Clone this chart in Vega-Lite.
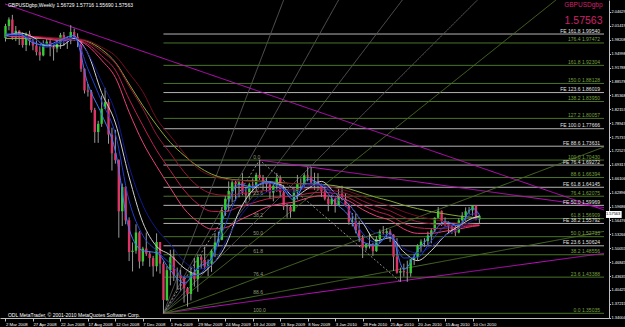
{
"$schema":"https://vega.github.io/schema/vega-lite/v6.json",
"width":609,"height":318,
"autosize":{"type":"none"},
"padding":{"left":0,"top":0,"right":16,"bottom":9},
"background":"#000000",
"config":{"view":{"stroke":null},"font":"Liberation Sans","axis":{"zindex":1,"labelOverlap":false,"tickCount":100}},
"datasets":{
"bars":[
{"d":"2008-03-02","o":1.9860,"h":2.0190,"l":1.9780,"c":2.0140},
{"d":"2008-03-09","o":2.0140,"h":2.0340,"l":2.0040,"c":2.0290},
{"d":"2008-03-16","o":2.0290,"h":2.0397,"l":1.9820,"c":1.9870},
{"d":"2008-03-23","o":1.9870,"h":2.0140,"l":1.9790,"c":2.0030},
{"d":"2008-03-30","o":2.0030,"h":2.0040,"l":1.9700,"c":1.9920},
{"d":"2008-04-06","o":1.9920,"h":1.9990,"l":1.9640,"c":1.9700},
{"d":"2008-04-13","o":1.9700,"h":1.9990,"l":1.9560,"c":1.9960},
{"d":"2008-04-20","o":1.9960,"h":2.0030,"l":1.9690,"c":1.9790},
{"d":"2008-04-27","o":1.9790,"h":1.9910,"l":1.9580,"c":1.9690},
{"d":"2008-05-04","o":1.9690,"h":1.9810,"l":1.9460,"c":1.9540},
{"d":"2008-05-11","o":1.9540,"h":1.9670,"l":1.9340,"c":1.9460},
{"d":"2008-05-18","o":1.9460,"h":1.9810,"l":1.9440,"c":1.9720},
{"d":"2008-05-25","o":1.9720,"h":1.9840,"l":1.9680,"c":1.9780},
{"d":"2008-06-01","o":1.9780,"h":1.9830,"l":1.9440,"c":1.9650},
{"d":"2008-06-08","o":1.9650,"h":1.9710,"l":1.9340,"c":1.9620},
{"d":"2008-06-15","o":1.9620,"h":1.9820,"l":1.9530,"c":1.9730},
{"d":"2008-06-22","o":1.9730,"h":1.9980,"l":1.9610,"c":1.9930},
{"d":"2008-06-29","o":1.9930,"h":2.0000,"l":1.9680,"c":1.9810},
{"d":"2008-07-06","o":1.9810,"h":1.9900,"l":1.9610,"c":1.9800},
{"d":"2008-07-13","o":1.9800,"h":2.0160,"l":1.9720,"c":2.0000},
{"d":"2008-07-20","o":2.0000,"h":2.0080,"l":1.9800,"c":1.9890},
{"d":"2008-07-27","o":1.9890,"h":1.9970,"l":1.9650,"c":1.9820},
{"d":"2008-08-03","o":1.9820,"h":1.9840,"l":1.9080,"c":1.9150},
{"d":"2008-08-10","o":1.9150,"h":1.9160,"l":1.8580,"c":1.8650},
{"d":"2008-08-17","o":1.8650,"h":1.8800,"l":1.8510,"c":1.8620},
{"d":"2008-08-24","o":1.8620,"h":1.8660,"l":1.8140,"c":1.8200},
{"d":"2008-08-31","o":1.8200,"h":1.8250,"l":1.7440,"c":1.7690},
{"d":"2008-09-07","o":1.7690,"h":1.7950,"l":1.7440,"c":1.7880},
{"d":"2008-09-14","o":1.7880,"h":1.8530,"l":1.7810,"c":1.8230},
{"d":"2008-09-21","o":1.8230,"h":1.8710,"l":1.8220,"c":1.8380},
{"d":"2008-09-28","o":1.8380,"h":1.8450,"l":1.7420,"c":1.7630},
{"d":"2008-10-05","o":1.7630,"h":1.7790,"l":1.6800,"c":1.7200},
{"d":"2008-10-12","o":1.7200,"h":1.7740,"l":1.6960,"c":1.7040},
{"d":"2008-10-19","o":1.7040,"h":1.7060,"l":1.5250,"c":1.5860},
{"d":"2008-10-26","o":1.5860,"h":1.6500,"l":1.5520,"c":1.6420},
{"d":"2008-11-02","o":1.6420,"h":1.6440,"l":1.5560,"c":1.5650},
{"d":"2008-11-09","o":1.5650,"h":1.5720,"l":1.4710,"c":1.4920},
{"d":"2008-11-16","o":1.4920,"h":1.5140,"l":1.4470,"c":1.4950},
{"d":"2008-11-23","o":1.4950,"h":1.5560,"l":1.4880,"c":1.5370},
{"d":"2008-11-30","o":1.5370,"h":1.5400,"l":1.4540,"c":1.4700},
{"d":"2008-12-07","o":1.4700,"h":1.5040,"l":1.4600,"c":1.5000},
{"d":"2008-12-14","o":1.5000,"h":1.5370,"l":1.4830,"c":1.4880},
{"d":"2008-12-21","o":1.4880,"h":1.4940,"l":1.4580,"c":1.4780},
{"d":"2008-12-28","o":1.4780,"h":1.4830,"l":1.4350,"c":1.4590},
{"d":"2009-01-04","o":1.4590,"h":1.5350,"l":1.4470,"c":1.5150},
{"d":"2009-01-11","o":1.5150,"h":1.5150,"l":1.4420,"c":1.4650},
{"d":"2009-01-18","o":1.4650,"h":1.4700,"l":1.3503,"c":1.3810},
{"d":"2009-01-25","o":1.3810,"h":1.4590,"l":1.3790,"c":1.4500},
{"d":"2009-02-01","o":1.4500,"h":1.4970,"l":1.4150,"c":1.4800},
{"d":"2009-02-08","o":1.4800,"h":1.4980,"l":1.4250,"c":1.4380},
{"d":"2009-02-15","o":1.4380,"h":1.4560,"l":1.4050,"c":1.4390},
{"d":"2009-02-22","o":1.4390,"h":1.4510,"l":1.4030,"c":1.4310},
{"d":"2009-03-01","o":1.4310,"h":1.4370,"l":1.3750,"c":1.4080},
{"d":"2009-03-08","o":1.4080,"h":1.4110,"l":1.3658,"c":1.3950},
{"d":"2009-03-15","o":1.3950,"h":1.4590,"l":1.3800,"c":1.4460},
{"d":"2009-03-22","o":1.4460,"h":1.4780,"l":1.4120,"c":1.4290},
{"d":"2009-03-29","o":1.4290,"h":1.4860,"l":1.4000,"c":1.4800},
{"d":"2009-04-05","o":1.4800,"h":1.4850,"l":1.4530,"c":1.4740},
{"d":"2009-04-12","o":1.4740,"h":1.5040,"l":1.4510,"c":1.4580},
{"d":"2009-04-19","o":1.4580,"h":1.4750,"l":1.4360,"c":1.4650},
{"d":"2009-04-26","o":1.4650,"h":1.4980,"l":1.4460,"c":1.4950},
{"d":"2009-05-03","o":1.4950,"h":1.5360,"l":1.4800,"c":1.5140},
{"d":"2009-05-10","o":1.5140,"h":1.5390,"l":1.5050,"c":1.5200},
{"d":"2009-05-17","o":1.5200,"h":1.5960,"l":1.5190,"c":1.5890},
{"d":"2009-05-24","o":1.5890,"h":1.6210,"l":1.5750,"c":1.6150},
{"d":"2009-05-31","o":1.6150,"h":1.6550,"l":1.5860,"c":1.6330},
{"d":"2009-06-07","o":1.6330,"h":1.6580,"l":1.6060,"c":1.6530},
{"d":"2009-06-14","o":1.6530,"h":1.6570,"l":1.6100,"c":1.6480},
{"d":"2009-06-21","o":1.6480,"h":1.6580,"l":1.6180,"c":1.6530},
{"d":"2009-06-28","o":1.6530,"h":1.6740,"l":1.6230,"c":1.6290},
{"d":"2009-07-05","o":1.6290,"h":1.6420,"l":1.6040,"c":1.6240},
{"d":"2009-07-12","o":1.6240,"h":1.6520,"l":1.6130,"c":1.6480},
{"d":"2009-07-19","o":1.6480,"h":1.6620,"l":1.6290,"c":1.6460},
{"d":"2009-07-26","o":1.6460,"h":1.6750,"l":1.6330,"c":1.6700},
{"d":"2009-08-02","o":1.6700,"h":1.7043,"l":1.6580,"c":1.6630},
{"d":"2009-08-09","o":1.6630,"h":1.6700,"l":1.6340,"c":1.6530},
{"d":"2009-08-16","o":1.6530,"h":1.6640,"l":1.6310,"c":1.6480},
{"d":"2009-08-23","o":1.6480,"h":1.6510,"l":1.6160,"c":1.6290},
{"d":"2009-08-30","o":1.6290,"h":1.6490,"l":1.6090,"c":1.6450},
{"d":"2009-09-06","o":1.6450,"h":1.6740,"l":1.6310,"c":1.6620},
{"d":"2009-09-13","o":1.6620,"h":1.6690,"l":1.6180,"c":1.6300},
{"d":"2009-09-20","o":1.6300,"h":1.6470,"l":1.5890,"c":1.5970},
{"d":"2009-09-27","o":1.5970,"h":1.6030,"l":1.5710,"c":1.5960},
{"d":"2009-10-04","o":1.5960,"h":1.6010,"l":1.5710,"c":1.5860},
{"d":"2009-10-11","o":1.5860,"h":1.6420,"l":1.5850,"c":1.6310},
{"d":"2009-10-18","o":1.6310,"h":1.6700,"l":1.6130,"c":1.6510},
{"d":"2009-10-25","o":1.6510,"h":1.6620,"l":1.6360,"c":1.6480},
{"d":"2009-11-01","o":1.6480,"h":1.6740,"l":1.6420,"c":1.6690},
{"d":"2009-11-08","o":1.6690,"h":1.6880,"l":1.6550,"c":1.6660},
{"d":"2009-11-15","o":1.6660,"h":1.6880,"l":1.6470,"c":1.6520},
{"d":"2009-11-22","o":1.6520,"h":1.6750,"l":1.6350,"c":1.6550},
{"d":"2009-11-29","o":1.6550,"h":1.6740,"l":1.6340,"c":1.6460},
{"d":"2009-12-06","o":1.6460,"h":1.6500,"l":1.6190,"c":1.6320},
{"d":"2009-12-13","o":1.6320,"h":1.6460,"l":1.6110,"c":1.6150},
{"d":"2009-12-20","o":1.6150,"h":1.6200,"l":1.5860,"c":1.6030},
{"d":"2009-12-27","o":1.6030,"h":1.6240,"l":1.5990,"c":1.6150},
{"d":"2010-01-03","o":1.6150,"h":1.6160,"l":1.5830,"c":1.6000},
{"d":"2010-01-10","o":1.6000,"h":1.6380,"l":1.5990,"c":1.6260},
{"d":"2010-01-17","o":1.6260,"h":1.6450,"l":1.6110,"c":1.6140},
{"d":"2010-01-24","o":1.6140,"h":1.6280,"l":1.5970,"c":1.5990},
{"d":"2010-01-31","o":1.5990,"h":1.6040,"l":1.5550,"c":1.5620},
{"d":"2010-02-07","o":1.5620,"h":1.5820,"l":1.5510,"c":1.5640},
{"d":"2010-02-14","o":1.5640,"h":1.5800,"l":1.5350,"c":1.5420},
{"d":"2010-02-21","o":1.5420,"h":1.5640,"l":1.5150,"c":1.5250},
{"d":"2010-02-28","o":1.5250,"h":1.5310,"l":1.4780,"c":1.5020},
{"d":"2010-03-07","o":1.5020,"h":1.5120,"l":1.4950,"c":1.5100},
{"d":"2010-03-14","o":1.5100,"h":1.5360,"l":1.5000,"c":1.5080},
{"d":"2010-03-21","o":1.5080,"h":1.5130,"l":1.4830,"c":1.4940},
{"d":"2010-03-28","o":1.4940,"h":1.5290,"l":1.4920,"c":1.5220},
{"d":"2010-04-04","o":1.5220,"h":1.5440,"l":1.5130,"c":1.5380},
{"d":"2010-04-11","o":1.5380,"h":1.5520,"l":1.5310,"c":1.5360},
{"d":"2010-04-18","o":1.5360,"h":1.5470,"l":1.5230,"c":1.5400},
{"d":"2010-04-25","o":1.5400,"h":1.5450,"l":1.5150,"c":1.5320},
{"d":"2010-05-02","o":1.5320,"h":1.5330,"l":1.4480,"c":1.4810},
{"d":"2010-05-09","o":1.4810,"h":1.5240,"l":1.4420,"c":1.4440},
{"d":"2010-05-16","o":1.4440,"h":1.4560,"l":1.4231,"c":1.4480},
{"d":"2010-05-23","o":1.4480,"h":1.4650,"l":1.4350,"c":1.4450},
{"d":"2010-05-30","o":1.4450,"h":1.4720,"l":1.4230,"c":1.4430},
{"d":"2010-06-06","o":1.4430,"h":1.4760,"l":1.4350,"c":1.4750},
{"d":"2010-06-13","o":1.4750,"h":1.4880,"l":1.4620,"c":1.4800},
{"d":"2010-06-20","o":1.4800,"h":1.5100,"l":1.4720,"c":1.5070},
{"d":"2010-06-27","o":1.5070,"h":1.5210,"l":1.4920,"c":1.5160},
{"d":"2010-07-04","o":1.5160,"h":1.5240,"l":1.5040,"c":1.5170},
{"d":"2010-07-11","o":1.5170,"h":1.5390,"l":1.5050,"c":1.5300},
{"d":"2010-07-18","o":1.5300,"h":1.5470,"l":1.5120,"c":1.5420},
{"d":"2010-07-25","o":1.5420,"h":1.5720,"l":1.5380,"c":1.5710},
{"d":"2010-08-01","o":1.5710,"h":1.5960,"l":1.5700,"c":1.5870},
{"d":"2010-08-08","o":1.5870,"h":1.5880,"l":1.5520,"c":1.5630},
{"d":"2010-08-15","o":1.5630,"h":1.5720,"l":1.5510,"c":1.5560},
{"d":"2010-08-22","o":1.5560,"h":1.5630,"l":1.5340,"c":1.5510},
{"d":"2010-08-29","o":1.5510,"h":1.5540,"l":1.5340,"c":1.5450},
{"d":"2010-09-05","o":1.5450,"h":1.5540,"l":1.5290,"c":1.5370},
{"d":"2010-09-12","o":1.5370,"h":1.5700,"l":1.5350,"c":1.5650},
{"d":"2010-09-19","o":1.5650,"h":1.5840,"l":1.5530,"c":1.5760},
{"d":"2010-09-26","o":1.5760,"h":1.5950,"l":1.5640,"c":1.5860},
{"d":"2010-10-03","o":1.5860,"h":1.5960,"l":1.5790,"c":1.5880},
{"d":"2010-10-10","o":1.5880,"h":1.6000,"l":1.5760,"c":1.5990},
{"d":"2010-10-17","o":1.5990,"h":1.6000,"l":1.5650,"c":1.5673},
{"d":"2010-10-24","o":1.5673,"h":1.5772,"l":1.5569,"c":1.5756}
],
"ma":[
{"d":"2008-03-02","b1":1.995,"b2":1.995,"b3":1.990,"w":1.990,"r1":1.990,"r2":1.990,"r3":1.990,"r4":1.990,"g":1.985},
{"d":"2008-03-30","b1":1.995,"b2":1.995,"b3":1.993,"w":1.998,"r1":1.989,"r2":1.989,"r3":1.990,"r4":1.990,"g":1.985},
{"d":"2008-04-27","b1":1.975,"b2":1.978,"b3":1.985,"w":1.988,"r1":1.988,"r2":1.989,"r3":1.989,"r4":1.990,"g":1.985},
{"d":"2008-05-25","b1":1.970,"b2":1.965,"b3":1.972,"w":1.968,"r1":1.984,"r2":1.985,"r3":1.987,"r4":1.988,"g":1.985},
{"d":"2008-06-22","b1":1.982,"b2":1.978,"b3":1.975,"w":1.968,"r1":1.980,"r2":1.982,"r3":1.984,"r4":1.986,"g":1.985},
{"d":"2008-07-20","b1":1.992,"b2":1.988,"b3":1.983,"w":1.985,"r1":1.982,"r2":1.983,"r3":1.984,"r4":1.985,"g":1.984},
{"d":"2008-08-17","b1":1.880,"b2":1.915,"b3":1.950,"w":1.950,"r1":1.968,"r2":1.972,"r3":1.976,"r4":1.980,"g":1.978},
{"d":"2008-09-14","b1":1.810,"b2":1.840,"b3":1.885,"w":1.860,"r1":1.935,"r2":1.945,"r3":1.955,"r4":1.965,"g":1.960},
{"d":"2008-10-12","b1":1.725,"b2":1.765,"b3":1.815,"w":1.790,"r1":1.895,"r2":1.912,"r3":1.928,"r4":1.945,"g":1.930},
{"d":"2008-11-09","b1":1.545,"b2":1.610,"b3":1.690,"w":1.665,"r1":1.815,"r2":1.845,"r3":1.875,"r4":1.905,"g":1.880},
{"d":"2008-12-07","b1":1.495,"b2":1.530,"b3":1.600,"w":1.560,"r1":1.745,"r2":1.784,"r3":1.823,"r4":1.862,"g":1.830},
{"d":"2009-01-04","b1":1.490,"b2":1.495,"b3":1.545,"w":1.505,"r1":1.690,"r2":1.727,"r3":1.763,"r4":1.800,"g":1.785},
{"d":"2009-02-01","b1":1.450,"b2":1.465,"b3":1.510,"w":1.485,"r1":1.640,"r2":1.680,"r3":1.720,"r4":1.760,"g":1.745},
{"d":"2009-03-01","b1":1.420,"b2":1.435,"b3":1.470,"w":1.455,"r1":1.592,"r2":1.635,"r3":1.677,"r4":1.720,"g":1.715},
{"d":"2009-03-29","b1":1.455,"b2":1.440,"b3":1.452,"w":1.440,"r1":1.562,"r2":1.603,"r3":1.644,"r4":1.685,"g":1.690},
{"d":"2009-04-26","b1":1.478,"b2":1.475,"b3":1.462,"w":1.462,"r1":1.545,"r2":1.586,"r3":1.627,"r4":1.668,"g":1.672},
{"d":"2009-05-24","b1":1.585,"b2":1.555,"b3":1.515,"w":1.505,"r1":1.548,"r2":1.585,"r3":1.623,"r4":1.660,"g":1.662},
{"d":"2009-06-21","b1":1.648,"b2":1.625,"b3":1.570,"w":1.585,"r1":1.565,"r2":1.596,"r3":1.626,"r4":1.657,"g":1.658},
{"d":"2009-07-19","b1":1.642,"b2":1.643,"b3":1.608,"w":1.635,"r1":1.580,"r2":1.605,"r3":1.630,"r4":1.655,"g":1.656},
{"d":"2009-08-16","b1":1.655,"b2":1.652,"b3":1.630,"w":1.652,"r1":1.595,"r2":1.614,"r3":1.634,"r4":1.653,"g":1.655},
{"d":"2009-09-13","b1":1.645,"b2":1.642,"b3":1.636,"w":1.648,"r1":1.603,"r2":1.619,"r3":1.634,"r4":1.650,"g":1.652},
{"d":"2009-10-11","b1":1.612,"b2":1.620,"b3":1.630,"w":1.620,"r1":1.607,"r2":1.621,"r3":1.636,"r4":1.650,"g":1.650},
{"d":"2009-11-08","b1":1.660,"b2":1.650,"b3":1.645,"w":1.638,"r1":1.617,"r2":1.627,"r3":1.638,"r4":1.648,"g":1.650},
{"d":"2009-12-06","b1":1.645,"b2":1.648,"b3":1.647,"w":1.655,"r1":1.622,"r2":1.630,"r3":1.637,"r4":1.645,"g":1.648},
{"d":"2010-01-03","b1":1.606,"b2":1.618,"b3":1.628,"w":1.628,"r1":1.620,"r2":1.627,"r3":1.633,"r4":1.640,"g":1.645},
{"d":"2010-01-31","b1":1.575,"b2":1.590,"b3":1.603,"w":1.602,"r1":1.610,"r2":1.617,"r3":1.625,"r4":1.632,"g":1.638},
{"d":"2010-02-28","b1":1.515,"b2":1.535,"b3":1.562,"w":1.560,"r1":1.590,"r2":1.600,"r3":1.610,"r4":1.620,"g":1.628},
{"d":"2010-03-28","b1":1.508,"b2":1.514,"b3":1.535,"w":1.518,"r1":1.575,"r2":1.586,"r3":1.597,"r4":1.608,"g":1.618},
{"d":"2010-04-25","b1":1.536,"b2":1.528,"b3":1.530,"w":1.525,"r1":1.565,"r2":1.576,"r3":1.587,"r4":1.598,"g":1.610},
{"d":"2010-05-23","b1":1.452,"b2":1.478,"b3":1.500,"w":1.492,"r1":1.545,"r2":1.558,"r3":1.572,"r4":1.585,"g":1.600},
{"d":"2010-06-20","b1":1.495,"b2":1.480,"b3":1.490,"w":1.472,"r1":1.535,"r2":1.548,"r3":1.562,"r4":1.575,"g":1.592},
{"d":"2010-07-18","b1":1.532,"b2":1.518,"b3":1.505,"w":1.495,"r1":1.535,"r2":1.546,"r3":1.557,"r4":1.568,"g":1.585},
{"d":"2010-08-15","b1":1.562,"b2":1.550,"b3":1.530,"w":1.530,"r1":1.540,"r2":1.547,"r3":1.555,"r4":1.562,"g":1.580},
{"d":"2010-09-12","b1":1.552,"b2":1.555,"b3":1.545,"w":1.552,"r1":1.545,"r2":1.549,"r3":1.554,"r4":1.558,"g":1.575},
{"d":"2010-10-10","b1":1.593,"b2":1.580,"b3":1.565,"w":1.570,"r1":1.551,"r2":1.553,"r3":1.554,"r4":1.556,"g":1.572},
{"d":"2010-10-24","b1":1.578,"b2":1.580,"b3":1.570,"w":1.575,"r1":1.553,"r2":1.554,"r3":1.554,"r4":1.555,"g":1.571}
],
"levels":[
{"kind":"FE","d":"2009-01-18","d2":"2011-07-05","p":1.99540,"t":"FE 161.8 1.99540"},
{"kind":"FE","d":"2009-01-18","d2":"2011-07-05","p":1.86019,"t":"FE 123.6 1.86019"},
{"kind":"FE","d":"2009-01-18","d2":"2011-07-05","p":1.77666,"t":"FE 100.0 1.77666"},
{"kind":"FE","d":"2009-01-18","d2":"2011-07-05","p":1.73631,"t":"FE 88.6 1.73631"},
{"kind":"FE","d":"2009-01-18","d2":"2011-07-05","p":1.69272,"t":"FE 76.4 1.69272"},
{"kind":"FE","d":"2009-01-18","d2":"2011-07-05","p":1.64145,"t":"FE 61.8 1.64145"},
{"kind":"FE","d":"2009-01-18","d2":"2011-07-05","p":1.59969,"t":"FE 50.0 1.59969"},
{"kind":"FE","d":"2009-01-18","d2":"2011-07-05","p":1.55792,"t":"FE 38.2 1.55792"},
{"kind":"FE","d":"2009-01-18","d2":"2011-07-05","p":1.50624,"t":"FE 23.6 1.50624"},
{"kind":"Fib","d":"2009-01-18","d2":"2011-07-05","p":1.97472,"t":"176.4 1.97472"},
{"kind":"Fib","d":"2009-01-18","d2":"2011-07-05","p":1.92304,"t":"161.8 1.92304"},
{"kind":"Fib","d":"2009-01-18","d2":"2011-07-05","p":1.88128,"t":"150.0 1.88128"},
{"kind":"Fib","d":"2009-01-18","d2":"2011-07-05","p":1.83950,"t":"138.2 1.83950"},
{"kind":"Fib","d":"2009-01-18","d2":"2011-07-05","p":1.80057,"t":"127.2 1.80057"},
{"kind":"Fib","d":"2009-01-18","d2":"2011-07-05","p":1.70430,"t":"100.0 1.70430"},
{"kind":"Fib","d":"2009-01-18","d2":"2011-07-05","p":1.66394,"t":"88.6 1.66394"},
{"kind":"Fib","d":"2009-01-18","d2":"2011-07-05","p":1.62075,"t":"76.4 1.62075"},
{"kind":"Fib","d":"2009-01-18","d2":"2011-07-05","p":1.56909,"t":"61.8 1.56909"},
{"kind":"Fib","d":"2009-01-18","d2":"2011-07-05","p":1.52733,"t":"50.0 1.52733"},
{"kind":"Fib","d":"2009-01-18","d2":"2011-07-05","p":1.48556,"t":"38.2 1.48556"},
{"kind":"Fib","d":"2009-01-18","d2":"2011-07-05","p":1.43388,"t":"23.6 1.43388"},
{"kind":"Fib","d":"2009-01-18","d2":"2011-07-05","p":1.35035,"t":"0.0 1.35035"}
],
"inner":[
{"d":"2009-07-20","p":1.70430,"t":"0.0"},
{"d":"2009-07-20","p":1.62076,"t":"23.6"},
{"d":"2009-07-20","p":1.56909,"t":"38.2"},
{"d":"2009-07-20","p":1.52733,"t":"50.0"},
{"d":"2009-07-20","p":1.48556,"t":"61.8"},
{"d":"2009-07-20","p":1.43388,"t":"76.4"},
{"d":"2009-07-20","p":1.39072,"t":"88.6"},
{"d":"2009-07-20","p":1.35035,"t":"100.0"}
],
"lines":[
{"id":"m1","grp":"magenta","d":"2008-03-01","p":2.0648},{"id":"m1","grp":"magenta","d":"2011-07-05","p":1.5890},
{"id":"m2","grp":"magenta","d":"2009-08-02","p":1.7043},{"id":"m2","grp":"magenta","d":"2011-07-05","p":1.5945},
{"id":"m3","grp":"magenta","d":"2009-01-18","p":1.3503},{"id":"m3","grp":"magenta","d":"2011-07-05","p":1.4888},
{"id":"f1","grp":"fan","d":"2009-01-18","p":1.3503},{"id":"f1","grp":"fan","d":"2011-03-29","p":2.074},
{"id":"f2","grp":"fan","d":"2009-01-18","p":1.3503},{"id":"f2","grp":"fan","d":"2011-07-05","p":1.7345},
{"id":"f3","grp":"fan","d":"2009-01-18","p":1.3503},{"id":"f3","grp":"fan","d":"2011-07-05","p":1.5396},
{"id":"g1","grp":"gray","d":"2009-01-18","p":1.3503},{"id":"g1","grp":"gray","d":"2009-09-20","p":2.074},
{"id":"g2","grp":"gray","d":"2009-01-18","p":1.3503},{"id":"g2","grp":"gray","d":"2010-01-10","p":2.074},
{"id":"g3","grp":"gray","d":"2009-01-18","p":1.3503},{"id":"g3","grp":"gray","d":"2010-05-20","p":2.074},
{"id":"g4","grp":"gray","d":"2009-01-18","p":1.3503},{"id":"g4","grp":"gray","d":"2010-10-20","p":2.074},
{"id":"fe","grp":"fe","d":"2009-01-18","p":1.3503},{"id":"fe","grp":"fe","d":"2009-08-02","p":1.7043},{"id":"fe","grp":"fe","d":"2010-05-16","p":1.4231}
]
},
"encoding":{
"x":{"field":"d","type":"temporal",
"scale":{"type":"utc","domain":[{"year":2008,"month":3,"date":1,"utc":true},{"year":2011,"month":7,"date":5,"utc":true}]},
"axis":{"title":null,"grid":false,"format":"%-d %b %Y","labelFontSize":4.3,"labelColor":"#ffffff","labelAlign":"left","labelBaseline":"top","labelPadding":1.5,"labelDx":1,"tickSize":3,"tickColor":"#c0c0c0","domainColor":"#c0c0c0","labelOverlap":false,"tickCount":100,"labelFlush":false,"labelBound":false,
"values":[{"year":2008,"month":3,"date":2,"utc":true},{"year":2008,"month":4,"date":27,"utc":true},{"year":2008,"month":6,"date":22,"utc":true},{"year":2008,"month":8,"date":17,"utc":true},{"year":2008,"month":10,"date":12,"utc":true},{"year":2008,"month":12,"date":7,"utc":true},{"year":2009,"month":2,"date":1,"utc":true},{"year":2009,"month":3,"date":29,"utc":true},{"year":2009,"month":5,"date":24,"utc":true},{"year":2009,"month":7,"date":19,"utc":true},{"year":2009,"month":9,"date":13,"utc":true},{"year":2009,"month":11,"date":8,"utc":true},{"year":2010,"month":1,"date":3,"utc":true},{"year":2010,"month":2,"date":28,"utc":true},{"year":2010,"month":4,"date":25,"utc":true},{"year":2010,"month":6,"date":20,"utc":true},{"year":2010,"month":8,"date":15,"utc":true},{"year":2010,"month":10,"date":10,"utc":true}]}}
},
"layer":[
{"data":{"name":"levels"},
 "mark":{"type":"rule","strokeWidth":1},
 "encoding":{
  "x2":{"field":"d2"},
  "y":{"field":"p","type":"quantitative","scale":{"domain":[1.3395,2.074],"nice":false,"zero":false},
   "axis":{"orient":"right","title":null,"grid":false,"format":".5f","labelFontSize":3.95,"labelColor":"#ffffff","labelPadding":0.5,"labelBaseline":"middle","tickSize":1.5,"tickColor":"#c0c0c0","domainColor":"#c0c0c0","labelOverlap":false,"tickCount":100,"labelBound":false,
   "values":[2.04629,2.01419,1.98208,1.94998,1.91788,1.88578,1.85368,1.82157,1.78947,1.75737,1.72527,1.69317,1.66106,1.62896,1.59686,1.56476,1.53266,1.50055,1.46845,1.43635,1.40425,1.37215,1.34004]}},
  "stroke":{"condition":{"test":"datum.kind === 'FE'","value":"#b4b4b4"},"value":"#4a7426"}
 }},
{"data":{"name":"lines"},
 "mark":{"type":"line","strokeWidth":1},
 "encoding":{
  "y":{"field":"p","type":"quantitative","scale":{"domain":[1.3395,2.074],"nice":false,"zero":false},"axis":{"title":null,"labelOverlap":false}},
  "detail":{"field":"id"},
  "stroke":{"condition":[{"test":"datum.grp === 'magenta'","value":"#c010c0"},{"test":"datum.grp === 'fan'","value":"#4a6e28"},{"test":"datum.grp === 'gray'","value":"#585858"}],"value":"#8c8c8c"},
  "strokeDash":{"condition":{"test":"datum.grp === 'fe'","value":[2,2]},"value":[1,0]}
 }},
{"data":{"name":"bars"},
 "mark":{"type":"rule","strokeWidth":1,"color":"#9a9a9a"},
 "encoding":{
  "y":{"field":"l","type":"quantitative","scale":{"domain":[1.3395,2.074],"nice":false,"zero":false},"axis":{"title":null,"labelOverlap":false}},
  "y2":{"field":"h"}
 }},
{"data":{"name":"bars"},
 "mark":{"type":"bar","size":2.4},
 "encoding":{
  "y":{"field":"o","type":"quantitative","scale":{"domain":[1.3395,2.074],"nice":false,"zero":false},"axis":{"title":null,"labelOverlap":false}},
  "y2":{"field":"c"},
  "fill":{"condition":{"test":"datum.c >= datum.o","value":"#33cc33"},"value":"#dd3366"}
 }},
{"data":{"name":"ma"},
 "transform":[{"fold":["g","r4","r3","r2","r1","w","b3","b2","b1"],"as":["s","v"]}],
 "mark":{"type":"line","strokeWidth":1,"interpolate":"monotone"},
 "encoding":{
  "y":{"field":"v","type":"quantitative","scale":{"domain":[1.3395,2.074],"nice":false,"zero":false},"axis":{"title":null,"labelOverlap":false}},
  "color":{"field":"s","type":"nominal","legend":null,
   "scale":{"domain":["g","r4","r3","r2","r1","w","b3","b2","b1"],"range":["#8aa838","#701020","#981838","#c02050","#e8407a","#d0d0d0","#101a90","#1f3fd0","#3a7bff"]}}
 }},
{"data":{"name":"levels"},
 "mark":{"type":"text","fontSize":5,"align":"right","baseline":"bottom","dx":-4,"dy":-0.5},
 "encoding":{
  "x":{"field":"d2","type":"temporal","scale":{"type":"utc"},"axis":{"title":null,"labelOverlap":false}},
  "y":{"field":"p","type":"quantitative","scale":{"domain":[1.3395,2.074],"nice":false,"zero":false},"axis":{"title":null,"labelOverlap":false}},
  "text":{"field":"t"},
  "fill":{"condition":{"test":"datum.kind === 'FE'","value":"#e0e0e0"},"value":"#78a040"}
 }},
{"data":{"name":"inner"},
 "mark":{"type":"text","fontSize":5,"align":"left","baseline":"bottom","dy":-0.5,"fill":"#8f9a78"},
 "encoding":{
  "y":{"field":"p","type":"quantitative","scale":{"domain":[1.3395,2.074],"nice":false,"zero":false},"axis":{"title":null,"labelOverlap":false}},
  "text":{"field":"t"}
 }},
{"data":{"values":[{"d":"2008-03-07","p":2.0625,"t":"GBPUSDgbp,Weekly  1.56729 1.57716 1.55690 1.57563"},{"d":"2008-03-07","p":1.3465,"t":"ODL MetaTrader, © 2001-2010 MetaQuotes Software Corp."}]},
 "mark":{"type":"text","fontSize":5,"align":"left","baseline":"middle","fill":"#ffffff"},
 "encoding":{
  "y":{"field":"p","type":"quantitative","scale":{"domain":[1.3395,2.074],"nice":false,"zero":false},"axis":{"title":null,"labelOverlap":false}},
  "text":{"field":"t"}
 }},
{"data":{"values":[{"d":"2011-07-02","p":2.0625,"t":"GBPUSDgbp"}]},
 "mark":{"type":"text","fontSize":6.5,"align":"right","baseline":"middle","fill":"#d0206a"},
 "encoding":{
  "y":{"field":"p","type":"quantitative","scale":{"domain":[1.3395,2.074],"nice":false,"zero":false},"axis":{"title":null,"labelOverlap":false}},
  "text":{"field":"t"}
 }},
{"data":{"values":[{"d":"2011-07-02","p":2.0255,"t":"1.57563"}]},
 "mark":{"type":"text","fontSize":10.5,"align":"right","baseline":"middle","fill":"#d0206a"},
 "encoding":{
  "y":{"field":"p","type":"quantitative","scale":{"domain":[1.3395,2.074],"nice":false,"zero":false},"axis":{"title":null,"labelOverlap":false}},
  "text":{"field":"t"}
 }},
{"data":{"values":[{"d":"2011-07-09","d2":"2011-08-10","p":1.5867,"p2":1.5706}]},
 "mark":{"type":"rect","fill":"#ffffff"},
 "encoding":{
  "x2":{"field":"d2"},
  "y":{"field":"p","type":"quantitative","scale":{"domain":[1.3395,2.074],"nice":false,"zero":false},"axis":{"title":null,"labelOverlap":false}},
  "y2":{"field":"p2"}
 }},
{"data":{"values":[{"d":"2011-07-09","p":1.5786,"t":"1.57563"}]},
 "mark":{"type":"text","fontSize":3.95,"align":"left","baseline":"middle","fill":"#000000"},
 "encoding":{
  "y":{"field":"p","type":"quantitative","scale":{"domain":[1.3395,2.074],"nice":false,"zero":false},"axis":{"title":null,"labelOverlap":false}},
  "text":{"field":"t"}
 }}
]
}
